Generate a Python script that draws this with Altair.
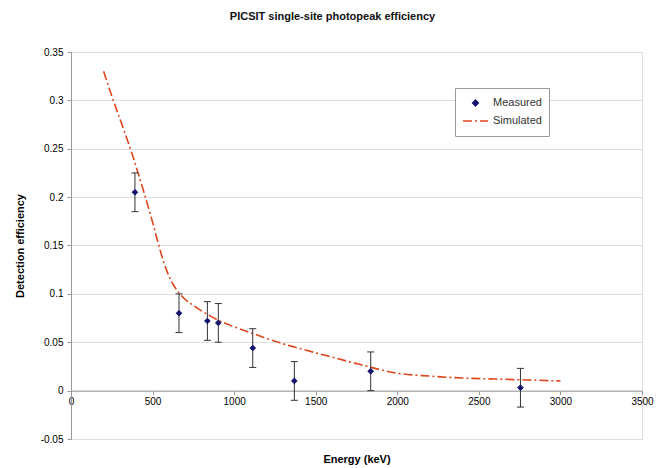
import altair as alt
import pandas as pd

# ---- data ----
series = ["Measured", "Simulated"]

meas_energy = [392, 662, 836, 903, 1114, 1369, 1837, 2755]
meas_eff = [0.205, 0.080, 0.072, 0.070, 0.044, 0.010, 0.020, 0.003]
meas_err = [0.020, 0.020, 0.020, 0.020, 0.020, 0.020, 0.020, 0.020]

sim_energy = [200, 255, 310, 372, 420, 454, 500, 535, 570, 607, 662, 750, 835,
              900, 1000, 1115, 1250, 1370, 1570, 1772, 2000, 2200, 2400, 2600,
              2800, 3000]
sim_eff = [0.330, 0.302, 0.276, 0.246, 0.220, 0.201, 0.174, 0.152, 0.132, 0.116,
           0.101, 0.088, 0.079, 0.073, 0.066, 0.059, 0.051, 0.045, 0.036, 0.027,
           0.018, 0.015, 0.013, 0.012, 0.011, 0.010]

x_ticks = [0, 500, 1000, 1500, 2000, 2500, 3000, 3500]
y_ticks = [-0.05, 0, 0.05, 0.1, 0.15, 0.2, 0.25, 0.3, 0.35]

# ---- styling ----
W, H = 571, 387
FONT = "Liberation Sans"
colors = ["#14146e", "#e0461c"]
x_dom = [0, 3500]
y_dom = [-0.05, 0.35]

meas_df = pd.DataFrame({
    "energy": meas_energy,
    "eff": meas_eff,
    "lo": [v - e for v, e in zip(meas_eff, meas_err)],
    "hi": [v + e for v, e in zip(meas_eff, meas_err)],
    "series": "Measured",
})
sim_df = pd.DataFrame({"energy": sim_energy, "eff": sim_eff, "series": "Simulated"})

xaxis = alt.Axis(values=x_ticks, title="Energy (keV)", grid=False, format="d",
                 offset=-H * 0.05 / 0.4, labelFlush=False, tickSize=4,
                 titleX=W / 2, titleY=69, titleBaseline="middle",
                 domainColor="#999999", tickColor="#999999")
yaxis = alt.Axis(values=y_ticks, title="Detection efficiency", grid=True,
                 tickSize=4, labelPadding=4,
                 labelExpr="replace(format(datum.value, '.2~f'), '\u2212', '-')",
                 titleX=-51, titleY=H / 2, titleAngle=270, titleBaseline="middle",
                 domainColor="#999999", tickColor="#999999")

xs = alt.Scale(domain=x_dom, nice=False, zero=False)
ys = alt.Scale(domain=y_dom, nice=False, zero=False)


def X(field):
    return alt.X(field, scale=xs, axis=xaxis)


def Y(field):
    return alt.Y(field, scale=ys, axis=yaxis)


leg = alt.Legend(title=None, orient="none", legendX=384, legendY=36,
                 strokeColor="#999999", fillColor="white", padding=7,
                 labelFont=FONT, labelFontSize=11, labelColor="#333333",
                 symbolStrokeWidth=1.5, clipHeight=16, rowPadding=2)

fill_s = alt.Scale(domain=series, range=colors)
shape_s = alt.Scale(domain=series, range=["diamond", "M-1,0H1"])
size_s = alt.Scale(domain=series, range=[32, 625])
dash_s = alt.Scale(domain=series, range=[[1, 0], [9, 3, 2, 3]])

line = alt.Chart(sim_df).mark_line(strokeWidth=1.6, interpolate="monotone").encode(
    x=X("energy:Q"), y=Y("eff:Q"),
    stroke=alt.Stroke("series:N", scale=fill_s, legend=leg),
    strokeDash=alt.StrokeDash("series:N", scale=dash_s, legend=leg),
)

rules = alt.Chart(meas_df).mark_rule(color="#333333", strokeWidth=1).encode(
    x=X("energy:Q"), y=Y("lo:Q"), y2="hi:Q",
)

caps = alt.Chart(meas_df).transform_fold(["lo", "hi"], as_=["end", "val"]).mark_tick(
    orient="horizontal", size=7, thickness=1, color="#333333", opacity=1
).encode(x=X("energy:Q"), y=Y("val:Q"))

points = alt.Chart(meas_df).mark_point(filled=True, opacity=1, strokeWidth=1).encode(
    x=X("energy:Q"), y=Y("eff:Q"),
    fill=alt.Fill("series:N", scale=fill_s, legend=leg),
    stroke=alt.Stroke("series:N", scale=fill_s, legend=leg),
    shape=alt.Shape("series:N", scale=shape_s, legend=leg),
    size=alt.Size("series:N", scale=size_s, legend=leg),
)

chart = alt.layer(line, rules, caps, points).properties(
    width=W, height=H,
    title=alt.TitleParams("PICSIT single-site photopeak efficiency", font=FONT,
                          fontSize=11, fontWeight="bold", color="#111111",
                          anchor="middle", dx=-24, offset=25),
    padding={"left": 71, "top": 52, "right": 24, "bottom": 29},
    autosize=alt.AutoSizeParams(type="none"),
).configure_view(
    stroke="#a6a6a6", strokeWidth=1
).configure_axis(
    labelFont=FONT, labelFontSize=11, labelColor="#444444",
    titleFont=FONT, titleFontSize=11, titleFontWeight="bold", titleColor="#111111",
    gridColor="#b3b3b3", gridWidth=1,
).configure(background="white")

chart.save("out.html", embed_options={"renderer": "svg", "actions": False})
